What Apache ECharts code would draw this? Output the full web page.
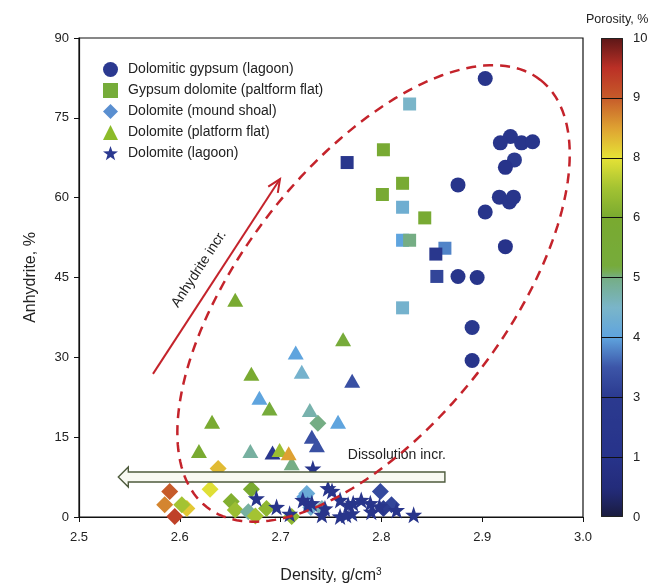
<!DOCTYPE html>
<html><head><meta charset="utf-8">
<script src="https://cdn.jsdelivr.net/npm/echarts@6/dist/echarts.min.js"></script>
<style>html,body{margin:0;padding:0;background:#fff}#c{width:653px;height:585px}</style>
</head><body><div id="c"></div>
<script>
// ---------- DATA: [density, anhydrite %, porosity %] ----------
const seriesNames = ['Dolomitic gypsum (lagoon)', 'Gypsum dolomite (paltform flat)', 'Dolomite (mound shoal)', 'Dolomite (platform flat)', 'Dolomite (lagoon)'];

const gypsumLagoon = [
  [2.903,82.4,1.5],[2.928,71.5,1.5],[2.918,70.3,1.5],[2.939,70.3,1.5],[2.950,70.5,1.5],
  [2.932,67.1,3.0],[2.923,65.7,1.0],[2.876,62.4,1.5],[2.917,60.1,1.5],[2.927,59.2,1.5],
  [2.931,60.1,1.5],[2.903,57.3,1.5],[2.923,50.8,1.0],[2.876,45.2,1.5],[2.895,45.0,1.5],
  [2.890,35.6,2.6],[2.890,29.4,1.5]
];
const gypsumDolomite = [
  [2.828,77.6,4.5],[2.802,69.0,5.8],[2.766,66.6,2.0],[2.821,62.7,5.8],[2.801,60.6,5.8],
  [2.821,58.2,4.3],[2.843,56.2,5.8],[2.821,52.0,4.0],[2.828,52.0,5.0],[2.863,50.5,3.8],
  [2.854,49.4,2.0],[2.855,45.2,3.2],[2.821,39.3,4.4]
];
const moundShoal = [
  [2.585,2.3,8.7],[2.590,4.8,9.0],[2.607,1.6,8.2],[2.595,0.1,9.3],[2.602,2.3,7.0],
  [2.630,5.2,7.9],[2.638,9.1,8.3],[2.651,2.9,6.2],[2.655,1.3,6.8],[2.668,1.0,4.8],
  [2.671,5.2,6.0],[2.675,0.2,7.0],[2.686,1.6,6.5],[2.711,0.1,6.5],[2.724,3.8,4.0],
  [2.726,4.4,4.2],[2.730,1.8,4.3],[2.737,17.6,5.0],[2.741,1.6,4.6],[2.799,4.8,3.3],
  [2.810,2.3,3.2],[2.802,1.6,3.0]
];
const platformFlat = [
  [2.655,40.8,5.9],[2.762,33.4,5.3],[2.715,30.9,4.0],[2.721,27.3,4.4],[2.671,26.9,5.9],
  [2.771,25.6,3.4],[2.679,22.4,4.0],[2.689,20.4,5.2],[2.729,20.1,4.7],[2.757,17.9,4.0],
  [2.632,17.9,5.9],[2.731,15.1,3.4],[2.736,13.5,3.4],[2.619,12.4,5.9],[2.670,12.4,4.8],
  [2.692,12.1,2.0],[2.699,12.6,6.8],[2.711,10.1,5.0],[2.708,12.0,8.5]
];
const dolomiteLagoon = [
  [2.676,3.5,1.5],[2.696,1.9,1.5],[2.709,0.6,1.5],[2.722,3.2,1.5],[2.727,2.3,1.5],
  [2.731,2.6,1.5],[2.732,9.1,1.5],[2.741,0.4,1.5],[2.744,1.6,1.5],[2.747,5.4,1.5],
  [2.751,4.9,1.5],[2.759,3.2,1.5],[2.759,0.1,1.5],[2.765,0.4,1.5],[2.767,2.3,1.5],
  [2.772,2.6,1.5],[2.771,0.7,1.5],[2.780,3.2,1.5],[2.789,2.6,1.5],[2.790,1.0,1.5],
  [2.798,2.0,1.5],[2.815,1.3,1.5],[2.832,0.4,1.5]
];

const xTicks = [2.5, 2.6, 2.7, 2.8, 2.9, 3.0];
const yTicks = [0, 15, 30, 45, 60, 75, 90];
const porosityTicks = [0, 1, 3, 4, 5, 6, 8, 9, 10];

// ---------- colour scale (position along the bar 0..8) ----------
const colorStops = [
  [0,'#1a1c3e'],[0.45,'#232b7a'],[1,'#27338a'],[2,'#2b3a8f'],[2.5,'#3c55a8'],[3,'#5fa4de'],
  [3.5,'#7ab5c9'],[4,'#75ad84'],[4.15,'#76ab3c'],[5,'#79aa30'],[5.5,'#a4c332'],[6,'#e6e236'],
  [6.5,'#dea132'],[7,'#c65b2a'],[7.5,'#bb3026'],[8,'#5c1717']
];
function hex2rgb(h){return [parseInt(h.substr(1,2),16),parseInt(h.substr(3,2),16),parseInt(h.substr(5,2),16)];}
function colorAtPos(p){
  p=Math.max(0,Math.min(8,p));
  for(let i=0;i<colorStops.length-1;i++){
    const [a,ca]=colorStops[i],[b,cb]=colorStops[i+1];
    if(p>=a&&p<=b){
      const t=(p-a)/(b-a),A=hex2rgb(ca),B=hex2rgb(cb);
      return 'rgb('+A.map((v,k)=>Math.round(v+(B[k]-v)*t)).join(',')+')';
    }
  }
  return colorStops[colorStops.length-1][1];
}
function porosityToPos(v){
  for(let i=0;i<porosityTicks.length-1;i++){
    if(v>=porosityTicks[i]&&v<=porosityTicks[i+1]) return i+(v-porosityTicks[i])/(porosityTicks[i+1]-porosityTicks[i]);
  }
  return v<0?0:8;
}
const porosityColor = v => colorAtPos(porosityToPos(v));

const starPath = 'path://M100,0L123.5,67.6L195.1,69.1L138,112.4L158.8,180.9L100,140L41.2,180.9L62,112.4L4.9,69.1L76.5,67.6Z';
const legendColors = ['#2b3990','#76ac3a','#5a8fd0','#8cbb2a','#2b3990'];
const symbols = ['circle','rect','diamond','triangle',starPath];
const sizes = [15,13,17,[16,14],17];
const allData = [gypsumLagoon,gypsumDolomite,moundShoal,platformFlat,dolomiteLagoon];

const font = 'Liberation Sans, Arial, sans-serif';
const chart = echarts.init(document.getElementById('c'), null, {renderer:'canvas'});

const scatterSeries = allData.map((arr,i)=>({
  name: seriesNames[i], type:'scatter', xAxisIndex:0, yAxisIndex:0,
  symbol: symbols[i], symbolSize: sizes[i], z: 3,
  itemStyle:{color: legendColors[i], opacity:1},
  data: arr.map(d=>({value:[d[0],d[1]], itemStyle:{color: porosityColor(d[2])}}))
}));

// colour bar gradient
const barStops = [];
for(let k=0;k<=80;k++){ const p=k/10; barStops.push({offset:p/8, color: colorAtPos(p)}); }

chart.setOption({
  animation:false,
  backgroundColor:'#fff',
  textStyle:{fontFamily:font},
  title:{text:'Porosity, %', left:581, top:8, textStyle:{fontSize:12.5, fontWeight:'normal', color:'#222', fontFamily:font}},
  legend:{
    orient:'vertical', left:98, top:57, itemGap:6, itemWidth:15, itemHeight:15,
    data: seriesNames,
    textStyle:{fontSize:14, color:'#222', fontFamily:font, padding:[0,0,0,5]}
  },
  grid:[
    {left:79, right:70, top:38, bottom:68, show:true, borderColor:'#111', borderWidth:1.2, backgroundColor:'transparent', containLabel:false, outerBoundsMode:'none'},
    {left:601, width:22, top:38, height:479, containLabel:false, outerBoundsMode:'none'}
  ],
  xAxis:[
    {type:'value', gridIndex:0, min:xTicks[0], max:xTicks[xTicks.length-1], interval:0.1,
     name:'Density, g/cm{sup|3}', nameLocation:'middle', nameGap:50,
     nameTextStyle:{fontSize:16, color:'#222', fontFamily:font, rich:{sup:{fontSize:10, verticalAlign:'top', padding:[0,0,8,0], color:'#222'}}},
     axisLine:{lineStyle:{color:'#111', width:1.2}}, axisTick:{inside:false, length:5, lineStyle:{color:'#111'}},
     axisLabel:{fontSize:13, color:'#222', margin:14, formatter:v=>v.toFixed(1)}, splitLine:{show:false}},
    {type:'category', gridIndex:1, data:[''], show:false}
  ],
  yAxis:[
    {type:'value', gridIndex:0, min:yTicks[0], max:yTicks[yTicks.length-1], interval:15,
     name:'Anhydrite, %', nameLocation:'middle', nameGap:40, nameRotate:90,
     nameTextStyle:{fontSize:16, color:'#222', fontFamily:font},
     axisLine:{show:true, lineStyle:{color:'#111', width:1.2}}, axisTick:{show:true, inside:false, length:5, lineStyle:{color:'#111'}},
     axisLabel:{fontSize:13, color:'#222', margin:10}, splitLine:{show:false}},
    {type:'value', gridIndex:1, min:0, max:porosityTicks.length-1, interval:1, position:'right',
     axisLine:{show:false}, axisTick:{show:false}, splitLine:{show:false},
     axisLabel:{fontSize:13, color:'#222', margin:10, formatter:v=>String(porosityTicks[v])}}
  ],
  series: scatterSeries.concat([{
    type:'bar', xAxisIndex:1, yAxisIndex:1, data:[porosityTicks.length-1], barWidth:'100%', silent:true,
    itemStyle:{borderColor:'#222', borderWidth:1, color:{type:'linear', x:0, y:1, x2:0, y2:0, colorStops:barStops}},
    markLine:{silent:true, symbol:'none', label:{show:false}, animation:false,
      lineStyle:{color:'#111', width:1, type:'solid'},
      data: porosityTicks.slice(1,-1).map((_,i)=>({yAxis:i+1}))}
  }])
});

// ---------- annotations (positioned in data units) ----------
const P = (x,y)=>chart.convertToPixel({gridIndex:0},[x,y]);
const red = '#c4232b';
const g = [];

// dissolution arrow
const dTip = P(2.539, 7.52), dTail = P(2.863, 7.52);
const headLen = 10, bodyH = 5, headH = 10;
g.push({type:'polygon', z:5, shape:{points:[
  [dTip[0],dTip[1]],[dTip[0]+headLen,dTip[1]-headH],[dTip[0]+headLen,dTip[1]-bodyH],[dTail[0],dTail[1]-bodyH],
  [dTail[0],dTail[1]+bodyH],[dTip[0]+headLen,dTip[1]+bodyH],[dTip[0]+headLen,dTip[1]+headH]]},
  style:{fill:'#f8f9f2', stroke:'#4e5b3d', lineWidth:1.4}});
const dText = P(2.864, 11.7);
g.push({type:'text', z:6, x:dText[0], y:dText[1], style:{text:'Dissolution incr.', font:'14px '+font, fill:'#222', align:'right', verticalAlign:'middle'}});

// anhydrite arrow
const a0 = P(2.5734, 26.9), a1 = P(2.6994, 63.5);
g.push({type:'line', z:6, shape:{x1:a0[0],y1:a0[1],x2:a1[0],y2:a1[1]}, style:{stroke:red, lineWidth:2}});
const ang = Math.atan2(a1[1]-a0[1], a1[0]-a0[0]);
const al = 14, spread = 0.42;
g.push({type:'polyline', z:6, shape:{points:[
  [a1[0]-al*Math.cos(ang-spread), a1[1]-al*Math.sin(ang-spread)], [a1[0],a1[1]],
  [a1[0]-al*Math.cos(ang+spread), a1[1]-al*Math.sin(ang+spread)]]}, style:{stroke:red, lineWidth:2, fill:null}});
const aT = P(2.619, 46.6);
g.push({type:'text', z:6, x:aT[0], y:aT[1], rotation:-ang, style:{text:'Anhydrite incr.', font:'14px '+font, fill:'#222', align:'center', verticalAlign:'middle'}});

// dashed ellipse
const ec = P(2.7922, 42.0);
const ea = 271, eb = 131, th = 52*Math.PI/180;
const ux = Math.cos(th), uy = -Math.sin(th), vx = Math.sin(th), vy = Math.cos(th);
const pts = [];
for(let k=0;k<=180;k++){
  const t = k/180*2*Math.PI;
  pts.push([ec[0]+ea*Math.cos(t)*ux+eb*Math.sin(t)*vx, ec[1]+ea*Math.cos(t)*uy+eb*Math.sin(t)*vy]);
}
g.push({type:'polyline', z:7, shape:{points:pts}, style:{stroke:red, lineWidth:2.5, lineDash:[10,7], fill:null}});

chart.setOption({graphic:{elements:g}});
</script>
</body></html>
